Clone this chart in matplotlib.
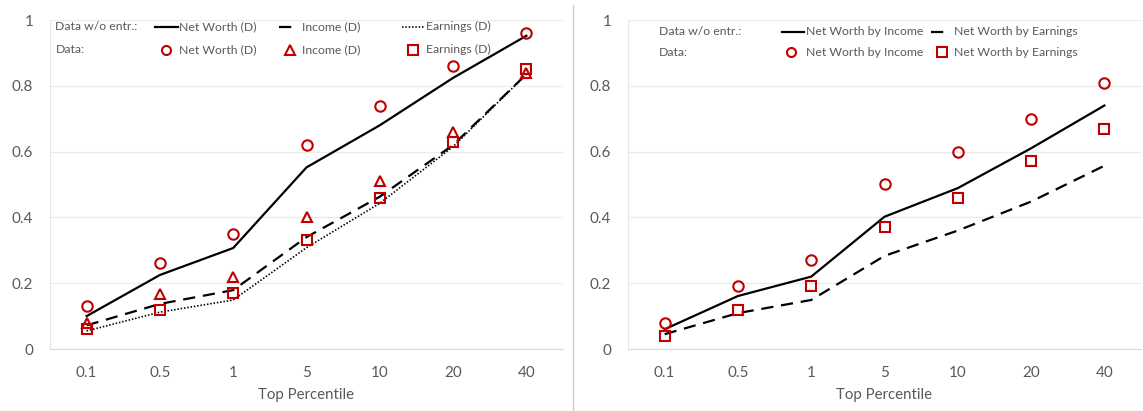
import matplotlib
matplotlib.use("Agg")
import matplotlib.pyplot as plt
from matplotlib.lines import Line2D

plt.rcParams['font.family'] = ['Lato', 'DejaVu Sans']

percentiles = ['0.1', '0.5', '1', '5', '10', '20', '40']

# left panel: model w/o entrepreneurs (lines) and data (markers)
nw_model = [0.10, 0.225, 0.307, 0.552, 0.68, 0.824, 0.952]
inc_model = [0.072, 0.137, 0.179, 0.340, 0.463, 0.620, 0.835]
earn_model = [0.055, 0.112, 0.149, 0.308, 0.443, 0.615, 0.835]
nw_data = [0.13, 0.26, 0.35, 0.62, 0.74, 0.86, 0.96]
inc_data = [0.08, 0.167, 0.22, 0.40, 0.51, 0.66, 0.84]
earn_data = [0.06, 0.12, 0.17, 0.33, 0.46, 0.63, 0.85]

# right panel
nwi_model = [0.06, 0.161, 0.22, 0.402, 0.489, 0.61, 0.74]
nwe_model = [0.045, 0.109, 0.149, 0.283, 0.36, 0.448, 0.557]
nwi_data = [0.08, 0.19, 0.27, 0.50, 0.60, 0.70, 0.81]
nwe_data = [0.04, 0.12, 0.19, 0.37, 0.46, 0.57, 0.67]

RED = '#C00000'
GREY = '#595959'
W, H = 1143, 411
LEG_FS = 8.8

fig = plt.figure(figsize=(W / 100, H / 100), dpi=100)
ax1 = fig.add_axes([50 / W, (H - 349) / H, 513 / W, 329 / H])
ax2 = fig.add_axes([628 / W, (H - 349) / H, 513 / W, 329 / H])

line_kw = dict(color='black', lw=1.6)
dash_kw = dict(color='black', lw=1.6, dashes=(5.5, 3.5))
dot_kw = dict(color='black', lw=1.2, dashes=(0.9, 1.1))
mk_kw = dict(ls='none', mfc='none', mec=RED, mew=1.5, ms=7.5, clip_on=False)


def style(ax):
    ax.set_xlim(-0.5, len(percentiles) - 0.5)
    ax.set_ylim(0, 1)
    ax.set_yticks([0, 0.2, 0.4, 0.6, 0.8, 1])
    ax.set_yticklabels(['0', '0.2', '0.4', '0.6', '0.8', '1'])
    ax.set_xticks(range(len(percentiles)))
    ax.set_xticklabels(percentiles)
    ax.tick_params(length=0, labelsize=11, colors=GREY)
    ax.tick_params(axis='y', pad=12)
    ax.tick_params(axis='x', pad=12)
    ax.grid(axis='y', color='#EBEBEB', lw=0.9)
    ax.set_axisbelow(True)
    for s in ['top', 'right']:
        ax.spines[s].set_visible(False)
    ax.spines['left'].set_color('#E6E6E6')
    ax.spines['bottom'].set_color('#D9D9D9')
    ax.set_xlabel('Top Percentile', fontsize=10.8, color=GREY, labelpad=6)


x = list(range(len(percentiles)))

ax1.plot(x, nw_model, **line_kw)
ax1.plot(x, inc_model, **dash_kw)
ax1.plot(x, earn_model, **dot_kw)
ax1.plot(x, nw_data, marker='o', **mk_kw)
ax1.plot(x, inc_data, marker='^', **mk_kw)
ax1.plot(x, earn_data, marker='s', **mk_kw)
style(ax1)

ax2.plot(x, nwi_model, **line_kw)
ax2.plot(x, nwe_model, **dash_kw)
ax2.plot(x, nwi_data, marker='o', **mk_kw)
ax2.plot(x, nwe_data, marker='s', **mk_kw)
style(ax2)


def legend_row(ax, y, label, items):
    tr = ax.transAxes
    ax.text(x0_label[ax], y, label, transform=tr, fontsize=LEG_FS, color=GREY, va='center')
    for kind, sx, tx, text in items:
        if kind in ('o', '^', 's'):
            ax.add_line(Line2D([sx], [y], marker=kind, ls='none', mfc='none', mec=RED,
                               mew=1.5, ms=6.5, transform=tr, clip_on=False))
        else:
            kw = {'-': line_kw, '--': dash_kw, ':': dot_kw}[kind]
            ax.add_line(Line2D(sx, [y, y], transform=tr, clip_on=False, **kw))
        ax.text(tx, y, text, transform=tr, fontsize=LEG_FS, color=GREY, va='center')


x0_label = {ax1: 0.0106, ax2: 0.0595}

legend_row(ax1, 0.980, 'Data w/o entr.:', [
    ('-', [0.2047, 0.2495], 0.2505, 'Net Worth (D)'),
    ('--', [0.4458, 0.4848], 0.4912, 'Income (D)'),
    (':', [0.686, 0.729], 0.733, 'Earnings (D)'),
])
legend_row(ax1, 0.909, 'Data:', [
    ('o', 0.2257, 0.2505, 'Net Worth (D)'),
    ('^', 0.467, 0.4912, 'Income (D)'),
    ('s', 0.707, 0.733, 'Earnings (D)'),
])
legend_row(ax2, 0.964, 'Data w/o entr.:', [
    ('-', [0.3002, 0.3431], 0.3466, 'Net Worth by Income'),
    ('--', [0.590, 0.629], 0.636, 'Net Worth by Earnings'),
])
legend_row(ax2, 0.902, 'Data:', [
    ('o', 0.3177, 0.3466, 'Net Worth by Income'),
    ('s', 0.6113, 0.636, 'Net Worth by Earnings'),
])

# divider between the two panels
fig.add_artist(Line2D([572.5 / W, 572.5 / W], [0, 1 - 5 / H], color='#D0D0D0', lw=1))

fig.savefig('out.png', dpi=100)
